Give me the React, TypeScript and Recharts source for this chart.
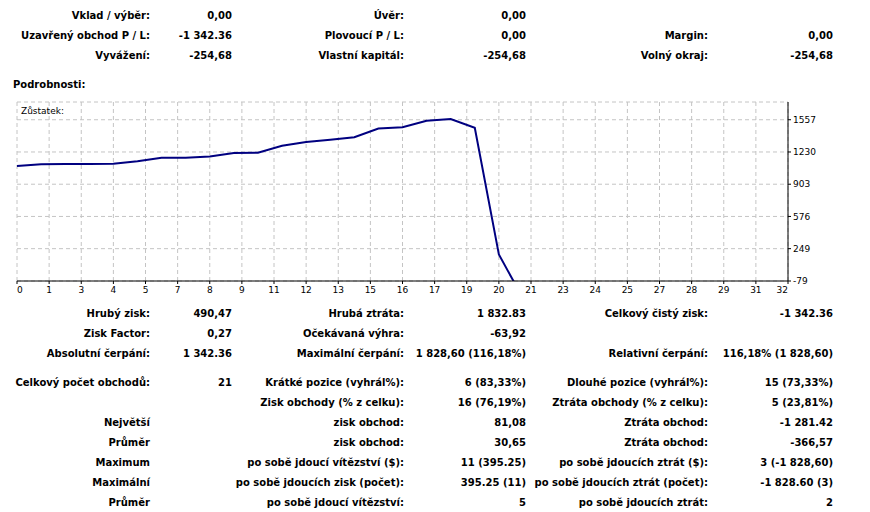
import React from 'react';
import { LineChart, Line, XAxis, YAxis, CartesianGrid } from 'recharts';

// balance after each closed trade (trade 0 = start)
const balance = [
  1087.68, 1105, 1107, 1108, 1110, 1137, 1171, 1171, 1185, 1219, 1222,
  1294, 1331, 1355, 1379, 1467, 1482, 1546, 1565, 1475, 190, -254.68,
];

const xTickLabels = [
  '0', '1', '3', '4', '5', '7', '8', '9', '11', '12', '13', '15', '16',
  '17', '19', '20', '21', '23', '24', '25', '27', '28', '29', '31', '32',
];
const xMax = 32;
const yTicks = [-79, 249, 576, 903, 1230, 1557];
const yDomain = [-79, 1737];

const topRows = [
  [['Vklad / výběr:', '0,00'], ['Úvěr:', '0,00'], null],
  [['Uzavřený obchod P / L:', '-1 342.36'], ['Plovoucí P / L:', '0,00'], ['Margin:', '0,00']],
  [['Vyvážení:', '-254,68'], ['Vlastní kapitál:', '-254,68'], ['Volný okraj:', '-254,68']],
];

const profitRows = [
  [['Hrubý zisk:', '490,47'], ['Hrubá ztráta:', '1 832.83'], ['Celkový čistý zisk:', '-1 342.36']],
  [['Zisk Factor:', '0,27'], ['Očekávaná výhra:', '-63,92'], null],
  [['Absolutní čerpání:', '1 342.36'], ['Maximální čerpání:', '1 828,60 (116,18%)'], ['Relativní čerpání:', '116,18% (1 828,60)']],
];

const tradeRows = [
  [['Celkový počet obchodů:', '21'], ['Krátké pozice (vyhrál%):', '6 (83,33%)'], ['Dlouhé pozice (vyhrál%):', '15 (73,33%)']],
  [null, ['Zisk obchody (% z celku):', '16 (76,19%)'], ['Ztráta obchody (% z celku):', '5 (23,81%)']],
  [['Největší', ''], ['zisk obchod:', '81,08'], ['Ztráta obchod:', '-1 281.42']],
  [['Průměr', ''], ['zisk obchod:', '30,65'], ['Ztráta obchod:', '-366,57']],
  [['Maximum', ''], ['po sobě jdoucí vítězství ($):', '11 (395.25)'], ['po sobě jdoucích ztrát ($):', '3 (-1 828,60)']],
  [['Maximální', ''], ['po sobě jdoucích zisk (počet):', '395.25 (11)'], ['po sobě jdoucích ztrát (počet):', '-1 828.60 (3)']],
  [['Průměr', ''], ['po sobě jdoucí vítězství:', '5'], ['po sobě jdoucích ztrát:', '2']],
];

const chartData = balance.map((b, i) => ({ trade: i, balance: b }));
const xTicks = xTickLabels.map((_, i) => (i * xMax) / (xTickLabels.length - 1));

const labelRight = [150, 404, 708];
const valueRight = [232, 526, 833];
const FONT = '"DejaVu Sans", Verdana, sans-serif';

const Txt = ({ right, y, children }: any) => (
  <div
    style={{
      position: 'absolute',
      left: right - 400,
      width: 400,
      top: y - 7,
      lineHeight: '14px',
      textAlign: 'right',
      whiteSpace: 'nowrap',
    }}
  >
    {children}
  </div>
);

const Table = ({ rows, top, step }: any) => (
  <>
    {rows.map((row: any, r: number) =>
      row.map((cell: any, c: number) =>
        cell ? (
          <React.Fragment key={`${r}-${c}`}>
            <Txt right={labelRight[c]} y={top + r * step}>{cell[0]}</Txt>
            <Txt right={valueRight[c]} y={top + r * step}>{cell[1]}</Txt>
          </React.Fragment>
        ) : null
      )
    )}
  </>
);

const XTick = (props: any) => {
  const { x, y, index } = props;
  const last = xTickLabels.length - 1;
  const anchor = index === 0 ? 'start' : index === last ? 'end' : 'middle';
  return (
    <text x={x} y={y + 1} dy="0.71em" textAnchor={anchor} fontSize={9} fontWeight="normal" fill="#000" fontFamily={FONT}>
      {xTickLabels[index]}
    </text>
  );
};

export default function App() {
  return (
    <div
      style={{
        position: 'absolute',
        left: 0,
        top: 0,
        width: 870,
        height: 512,
        background: '#fff',
        fontFamily: FONT,
        fontSize: 10,
        fontWeight: 'bold',
        color: '#000',
      }}
    >
      <Table rows={topRows} top={16} step={20} />
      <div style={{ position: 'absolute', left: 13, top: 78, lineHeight: '14px' }}>Podrobnosti:</div>

      <div style={{ position: 'absolute', left: 0, top: 95, fontWeight: 'normal' }}>
        <LineChart width={870} height={210} data={chartData} margin={{ top: 7, right: 22, bottom: 4, left: 17 }}>
          <CartesianGrid stroke="#c4c4c4" strokeDasharray="4 3" />
          <XAxis
            dataKey="trade"
            type="number"
            domain={[0, xMax]}
            ticks={xTicks}
            interval={0}
            height={20}
            tickSize={3}
            tickMargin={2}
            axisLine={{ stroke: '#000' }}
            tickLine={{ stroke: '#000' }}
            tick={<XTick />}
          />
          <XAxis xAxisId="top" orientation="top" type="number" domain={[0, xMax]} height={0} tick={false} tickLine={false} axisLine={{ stroke: '#000' }} />
          <YAxis
            orientation="right"
            domain={yDomain}
            ticks={yTicks}
            allowDataOverflow
            interval={0}
            width={60}
            tickSize={3}
            tickMargin={2}
            axisLine={{ stroke: '#000' }}
            tickLine={{ stroke: '#000' }}
            tick={{ fontSize: 9, fill: '#000', fontFamily: FONT, fontWeight: 'normal' }}
          />
          <YAxis yAxisId="left" orientation="left" domain={yDomain} allowDataOverflow width={0} tick={false} tickLine={false} axisLine={{ stroke: '#000' }} />
          <Line type="linear" dataKey="balance" stroke="#000080" strokeWidth={2} dot={false} isAnimationActive={false} />
        </LineChart>
      </div>
      <div style={{ position: 'absolute', left: 21, top: 105, fontSize: 9, fontWeight: 'normal', lineHeight: '12px' }}>Zůstatek:</div>

      <Table rows={profitRows} top={314} step={20} />
      <Table rows={tradeRows} top={383} step={20} />
    </div>
  );
}
